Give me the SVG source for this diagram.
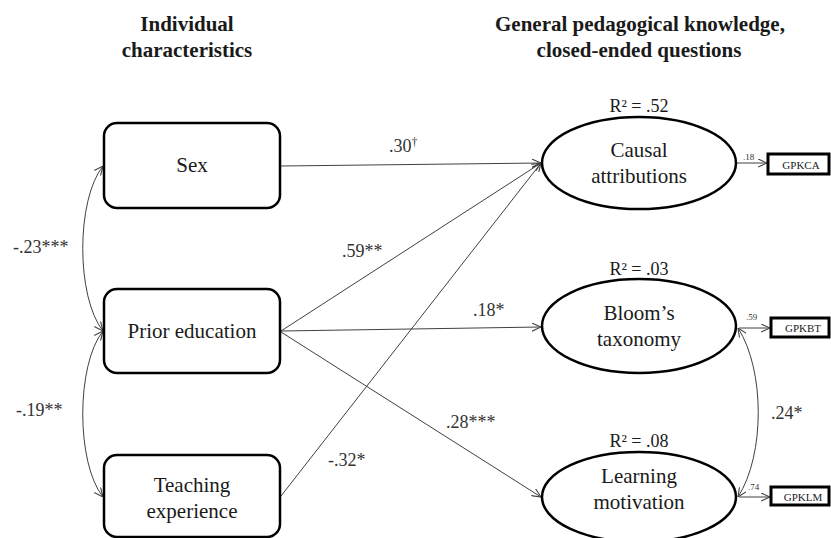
<svg xmlns="http://www.w3.org/2000/svg" width="831" height="538" viewBox="0 0 831 538" font-family="'Liberation Serif', 'DejaVu Serif', serif">
<style>
text{font-family:'Liberation Serif','DejaVu Serif',serif;fill:#1a1a1a}
.hd{font-size:21px;font-weight:bold;text-anchor:middle}
.nt{font-size:21px;text-anchor:middle}
.lb{font-size:18px;fill:#333}
.r2{font-size:18px;text-anchor:middle}
.sm{font-size:9px;fill:#333}
.ob{font-size:11px;text-anchor:middle}
.box{fill:#fff;stroke:#000;stroke-width:2.5}
.ell{fill:#fff;stroke:#000;stroke-width:2.5}
.ind{fill:#fff;stroke:#000;stroke-width:3}
.c{fill:none;stroke:#404040;stroke-width:1}
</style>
<defs>
<marker id="ah" viewBox="0 0 10 10" refX="10" refY="5" markerWidth="9" markerHeight="9" markerUnits="userSpaceOnUse" orient="auto-start-reverse">
<path d="M0,0.5 L10,5 L0,9.5" fill="none" stroke="#404040" stroke-width="1.2"/>
</marker>
</defs>
<rect width="831" height="538" fill="#fff"/>
<g id="headings">
<text class="hd" x="187" y="31">Individual</text>
<text class="hd" x="187" y="57">characteristics</text>
<text class="hd" x="640" y="31">General pedagogical knowledge,</text>
<text class="hd" x="639" y="57">closed-ended questions</text>
</g>
<g id="connectors">
<path class="c" d="M281,166 L541,163" marker-end="url(#ah)"/>
<path class="c" d="M281,331 L541,163" marker-end="url(#ah)"/>
<path class="c" d="M281,331 L541,327" marker-end="url(#ah)"/>
<path class="c" d="M281,332 L541,497" marker-end="url(#ah)"/>
<path class="c" d="M281,496 L541,163" marker-end="url(#ah)"/>
<path class="c" d="M103,166 C76,200 76,297 103,331" marker-start="url(#ah)" marker-end="url(#ah)"/>
<path class="c" d="M103,331 C76,365 76,463 103,497" marker-start="url(#ah)" marker-end="url(#ah)"/>
<path class="c" d="M738,328 C765,370 765,455 738,497" marker-start="url(#ah)" marker-end="url(#ah)"/>
<path class="c" d="M737,163 L767,163" marker-end="url(#ah)"/>
<path class="c" d="M739,328 L770,328" marker-end="url(#ah)"/>
<path class="c" d="M739,497 L770,497" marker-end="url(#ah)"/>
<text class="lb" x="389" y="152">.30<tspan font-size="12" dy="-6">†</tspan></text>
<text class="lb" x="342" y="257">.59**</text>
<text class="lb" x="473" y="316">.18*</text>
<text class="lb" x="446" y="428">.28***</text>
<text class="lb" x="328" y="466">-.32*</text>
<text class="lb" x="13" y="253">-.23***</text>
<text class="lb" x="16" y="416">-.19**</text>
<text class="lb" x="771" y="419">.24*</text>
<text class="sm" x="743" y="160">.18</text>
<text class="sm" x="746" y="320">.59</text>
<text class="sm" x="748" y="490">.74</text>
</g>
<g id="sex">
<rect class="box" x="104" y="123" width="176" height="85" rx="13"/>
<text class="nt" x="192" y="172">Sex</text>
</g>
<g id="prior-education">
<rect class="box" x="104" y="289" width="176" height="84" rx="13"/>
<text class="nt" x="192" y="338">Prior education</text>
</g>
<g id="teaching-experience">
<rect class="box" x="104" y="455" width="176" height="82" rx="13"/>
<text class="nt" x="192" y="492">Teaching</text>
<text class="nt" x="192" y="518">experience</text>
</g>
<g id="causal-attributions">
<text class="r2" x="639" y="112">R² = .52</text>
<ellipse class="ell" cx="639" cy="163" rx="97" ry="46"/>
<text class="nt" x="639" y="157">Causal</text>
<text class="nt" x="639" y="183">attributions</text>
</g>
<g id="blooms-taxonomy">
<text class="r2" x="639" y="275">R² = .03</text>
<ellipse class="ell" cx="639" cy="326" rx="97" ry="47"/>
<text class="nt" x="639" y="320">Bloom’s</text>
<text class="nt" x="639" y="346">taxonomy</text>
</g>
<g id="learning-motivation">
<text class="r2" x="639" y="447">R² = .08</text>
<ellipse class="ell" cx="639" cy="497" rx="97" ry="45"/>
<text class="nt" x="639" y="483">Learning</text>
<text class="nt" x="639" y="509">motivation</text>
</g>
<g id="gpkca">
<rect class="ind" x="768" y="154" width="61" height="20"/>
<text class="ob" x="801" y="169">GPKCA</text>
</g>
<g id="gpkbt">
<rect class="ind" x="771" y="318" width="58" height="19"/>
<text class="ob" x="803" y="332">GPKBT</text>
</g>
<g id="gpklm">
<rect class="ind" x="771" y="487" width="58" height="18"/>
<text class="ob" x="803" y="501">GPKLM</text>
</g>
</svg>
